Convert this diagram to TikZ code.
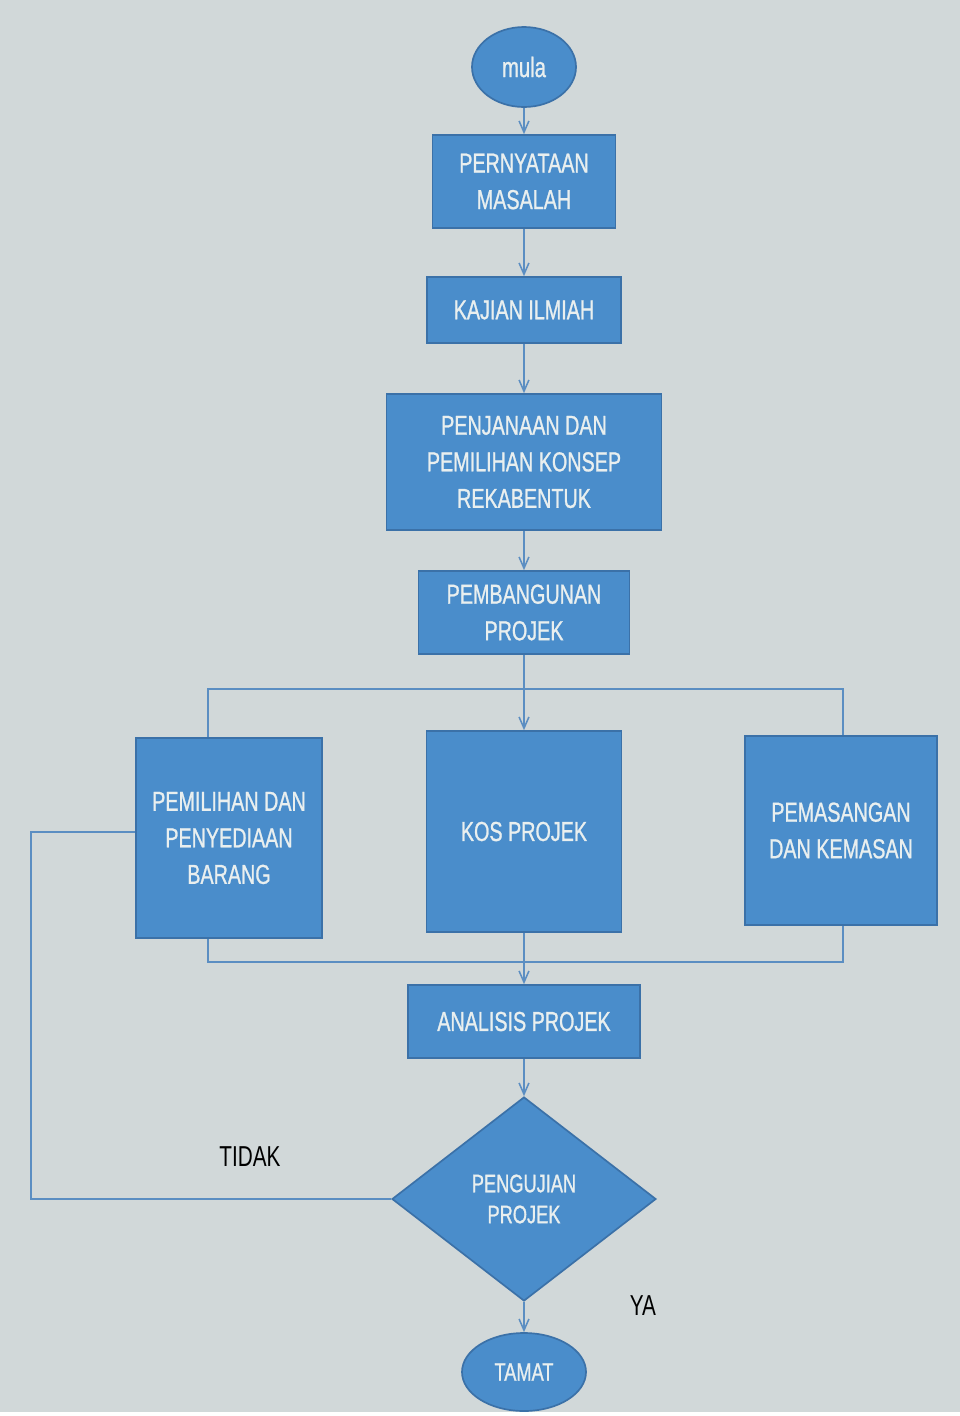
\documentclass[tikz,border=0pt]{standalone}
\usepackage{fontspec}
\setmainfont[FakeStretch=0.72]{Liberation Sans}
\newfontfamily\boxfont[FakeStretch=0.72,FakeBold=0.9]{Liberation Sans}
\usetikzlibrary{shapes.geometric,arrows.meta}
\definecolor{bg}{HTML}{D1D8D9}
\definecolor{boxfill}{HTML}{4A8DCB}
\definecolor{boxline}{HTML}{3B71A8}
\definecolor{conn}{HTML}{5B8EC2}
\definecolor{txt}{HTML}{E9EFEF}
\begin{document}
\begin{tikzpicture}[x=0.025cm,y=-0.025cm,
  blk/.style 2 args={draw=boxline, line width=1.2pt, fill=boxfill, text=txt, align=center, inner sep=0pt,
    minimum width=#1*0.025cm, minimum height=#2*0.025cm, font=\boxfont\fontsize{19.5}{26}\selectfont},
  termnode/.style 2 args={ellipse, draw=boxline, line width=1.2pt, fill=boxfill, text=txt, inner sep=0pt,
    minimum width=#1*0.025cm, minimum height=#2*0.025cm},
  decnode/.style={diamond, draw=boxline, line width=1.2pt, fill=boxfill, text=txt, align=center, inner sep=0pt,
    aspect=1.3, minimum width=264*0.025cm, minimum height=204*0.025cm, font=\boxfont\fontsize{18}{22}\selectfont},
  link/.style={draw=conn, line width=1.3pt},
  arr/.style={link, -{Straight Barb[length=8pt,width=7pt,line width=1.1pt]}},
  lbl/.style={text=black, inner sep=0pt, font=\fontsize{20.5}{24}\selectfont}
]
\useasboundingbox (0,0) rectangle (960,1416);
\fill[bg] (0,0) rectangle (960,1416);
\fill[white] (0,1412) rectangle (960,1416);

\node[termnode={104}{80}, font=\boxfont\fontsize{20}{24}\selectfont] (mula) at (524,67) {mula};
\node[blk={183}{93}] (pern) at (524,181.5) {PERNYATAAN\\MASALAH};
\node[blk={194}{66}] (kaj) at (524,310) {KAJIAN ILMIAH};
\node[blk={275}{136}] (penj) at (524,462) {PENJANAAN DAN\\PEMILIHAN KONSEP\\REKABENTUK};
\node[blk={211}{83}] (pemb) at (524,612.5) {PEMBANGUNAN\\PROJEK};
\node[blk={186}{200}] (pil) at (229,838) {PEMILIHAN DAN\\PENYEDIAAN\\BARANG};
\node[blk={195}{201}] (kos) at (524,831.5) {KOS PROJEK};
\node[blk={192}{189}] (pas) at (841,830.5) {PEMASANGAN\\DAN KEMASAN};
\node[blk={232}{73}] (anal) at (524,1021.5) {ANALISIS PROJEK};
\node[decnode] (uji) at (524,1199) {PENGUJIAN\\PROJEK};
\node[termnode={124}{78}, font=\boxfont\fontsize{18}{22}\selectfont] (tamat) at (524,1372) {TAMAT};

\node[lbl] (tidak) at (250,1157) {TIDAK};
\node[lbl] (ya) at (643,1306) {YA};

\draw[arr] (mula) -- (pern);
\draw[arr] (pern) -- (kaj);
\draw[arr] (kaj) -- (penj);
\draw[arr] (penj) -- (pemb);
\draw[arr] (pemb) -- (kos);

\coordinate (tl) at (208,689);
\coordinate (tr) at (843,689);
\draw[link] (tl |- pil.north) -- (tl) -- (tr) -- (tr |- pas.north);

\coordinate (bl) at (208,962);
\coordinate (br) at (843,962);
\draw[link] (bl |- pil.south) -- (bl) -- (br) -- (br |- pas.south);

\draw[arr] (kos) -- (anal);
\draw[arr] (anal) -- (uji);
\draw[arr] (uji) -- (tamat);

\coordinate (lt) at (31,832);
\draw[link] (uji.west) -| (lt) -- (lt -| pil.west);
\end{tikzpicture}
\end{document}
